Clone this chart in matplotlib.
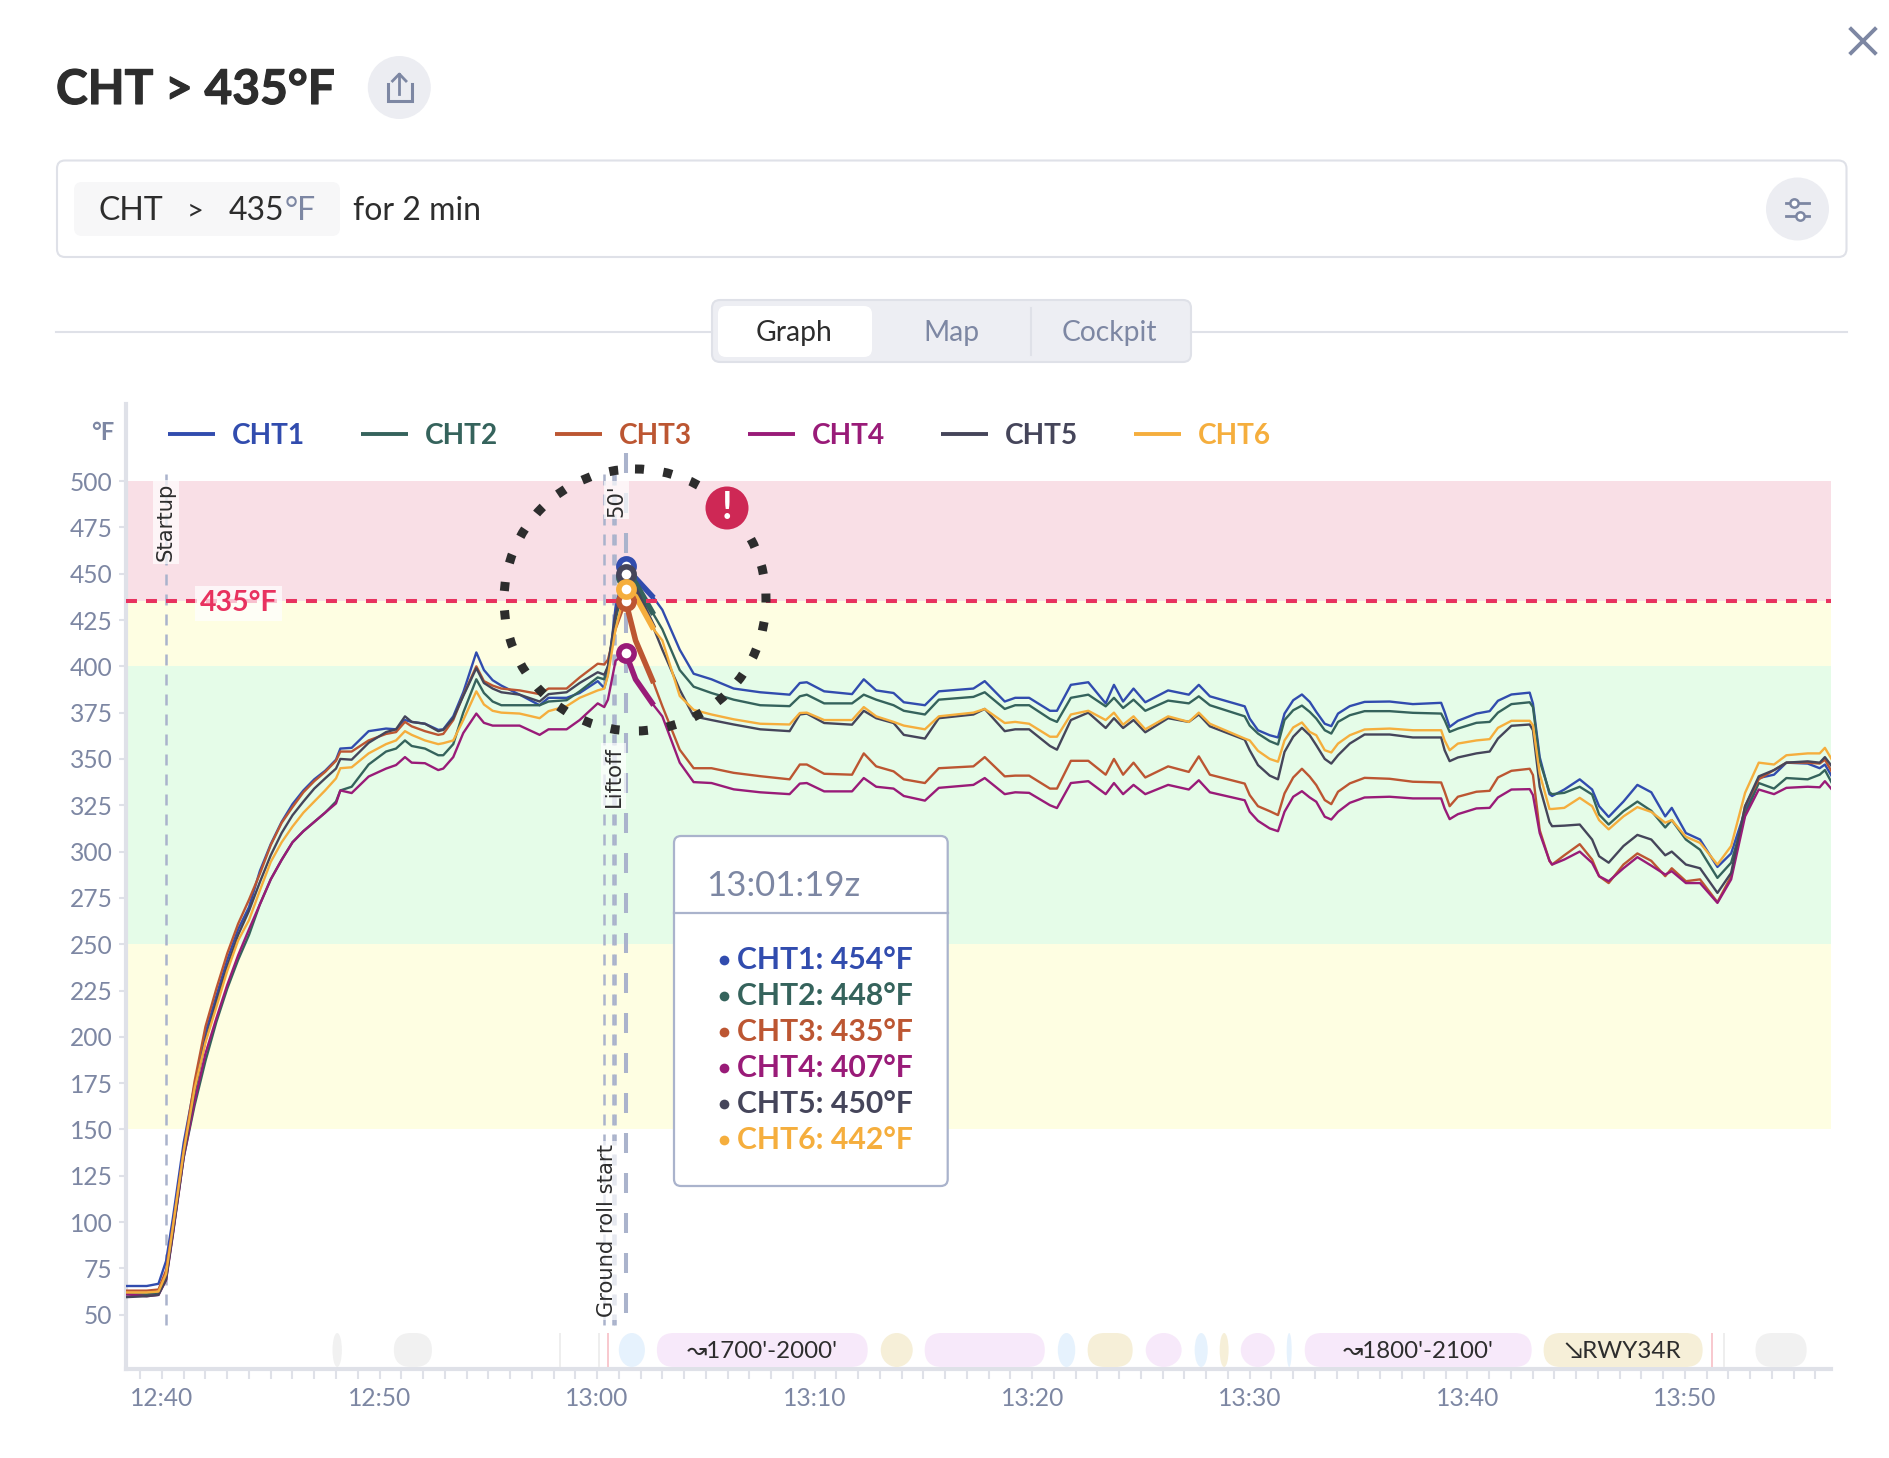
import matplotlib
matplotlib.use("Agg")
from matplotlib import pyplot as plt
from matplotlib import patheffects as pe
from matplotlib.patches import Circle, FancyBboxPatch, Ellipse, Rectangle

plt.rcParams["font.family"] = ["Lato", "DejaVu Sans"]
plt.rcParams["lines.scale_dashes"] = False

# minutes after 12:40z
T = [-1.63, -0.7, -0.16, 0.19, 0.5, 1, 1.5, 2, 2.5, 3, 3.5, 4, 4.5, 5, 5.5, 6, 6.5, 7, 7.5, 8,
     8.2, 8.72, 9.5, 10.3, 10.76, 11.17, 11.48, 12.09, 12.7, 12.93, 13.39, 13.85, 14.45, 14.8, 15.2, 15.6,
     16.44, 17.36, 17.77, 18.6, 19.2, 20.03, 20.33, 20.5, 20.85, 21.32, 21.77, 22.6, 23, 23.8, 24.44, 25.26,
     26.28, 27.5, 28.85, 29.32, 29.64, 30.44, 31.72, 32.26, 32.83, 33.63, 34.1, 35.07, 35.71, 37.3, 37.82,
     38.74, 39.22, 39.86, 40.82, 41.14, 41.78, 42.58, 43.38, 43.76, 44.18, 44.66, 45.2, 46.25, 47.2, 47.66,
     48.17, 49.77,
     50, 50.38, 50.92, 51.3, 51.6, 52, 52.4, 52.76, 53.06, 53.45, 53.75, 54.06, 54.6, 55.28, 56.43, 57.5,
     58.8, 58.96, 59.19, 59.57, 60.42, 61.03, 61.41, 62.03, 62.87, 63.02, 63.33, 63.78,
     63.9, 64.46, 65.17, 65.74, 66.06, 66.5, 67.18, 67.82, 68.46, 69.1, 69.4, 70.05, 70.7, 71.5, 72.13, 72.77,
     73.4, 74.1, 74.67, 75.65, 76.2, 76.44, 76.76]
CHT1 = [65.5, 65.5, 66.7, 79, 102, 143, 174, 202, 222, 241.5, 258, 270, 289.5, 304, 316, 325.6, 333, 339, 343.6, 349.6,
        355.6, 356, 365, 366.4, 366, 371, 370, 369, 365.7, 366, 373, 386, 407.5, 398, 392.5, 389.6,
        384.7, 379, 383, 383, 385.6, 392, 388.3, 396, 432, 454, 447.6, 437, 430.5, 409, 396, 393,
        388, 386, 384.7, 391, 391.4, 386.5, 385, 393, 387, 385.6, 380.6, 379, 386.5, 388, 392,
        381, 383, 383, 376, 376, 390, 391.4, 380, 390, 381, 388, 380.6, 387, 384.7, 390,
        383.8, 378.4,
        371.8, 365.5, 362.8, 361.6, 374.5, 381.7, 384.8, 380.8, 375.4, 369, 367.7, 374.5, 378.5, 380.8, 381, 379.6,
        380.3, 375.4, 367.3, 370.6, 374.5, 375.8, 381.4, 384.8, 385.8, 379.9, 351, 331,
        330, 333.5, 339, 333.5, 324.5, 318.7, 327, 336, 332, 319, 323.6, 310, 306.5, 291.7, 299, 322,
        339.7, 341.5, 348, 347.5, 345, 347, 340.6]
CHT2 = [61, 61, 61.5, 70, 94, 135, 163, 187, 208, 226, 241.5, 255, 271.5, 285, 295.5, 305, 311, 316, 321, 327,
        333, 335, 347, 354, 355.6, 360, 357, 355.6, 352, 352, 358, 375, 393, 385.6, 381, 379,
        379, 379, 381, 381.7, 386.5, 394, 393, 400, 425, 448, 445, 428, 420, 398, 389, 385.6,
        382, 379, 378.5, 383.8, 384.7, 380, 380, 384.7, 382, 379, 376, 374, 382, 383.5, 386,
        377, 379, 379, 371.6, 370, 383, 384.7, 378.4, 383, 377.5, 382, 376, 381.5, 380, 383.8,
        379, 373,
        368, 363.7, 359.6, 357.8, 371, 376.3, 378.8, 375.4, 371.8, 365.5, 363.7, 370, 373.6, 375.8, 375.8, 374.9,
        374.5, 370.9, 364.6, 366.4, 369.5, 370, 375, 379.6, 380.6, 378, 349, 332,
        331, 331.7, 335, 330.8, 320, 314.6, 321.8, 327, 322, 313, 317, 306.5, 301, 285.8, 294, 320,
        337, 334, 339.7, 339, 341.5, 344, 337]
CHT3 = [63, 63, 63.6, 74, 98, 139, 176, 205.5, 226, 245, 261, 274, 288, 303.5, 315.5, 324, 332, 338, 343, 349,
        354, 354, 360, 363.5, 364.5, 370, 367.6, 365, 363, 363.5, 371, 384.4, 400, 392, 389.6, 388,
        387, 385, 388, 388, 394, 401.4, 401, 403.6, 420, 435, 414, 391, 378.5, 355, 345, 345,
        342.5, 340.7, 339, 347, 347, 342, 341.5, 353, 346, 343.3, 339, 337, 345, 346, 351,
        340.6, 341, 341, 334, 334, 349, 349, 341.5, 350, 341.5, 348, 340, 346, 343, 351.4,
        341.5, 336.7,
        330.5, 324.5, 321.8, 319.7, 331.4, 340, 344.7, 340.4, 335.9, 327.8, 325.6, 332.3, 336.8, 339.8, 339.3, 337.7,
        337.3, 332.3, 324.5, 329.6, 332.3, 332.8, 340, 343.6, 344.7, 341.3, 311.6, 295,
        293, 298, 304, 295.7, 286.7, 283, 293, 299, 295, 286.7, 291, 284, 285, 272.7, 286.7, 324.5,
        339, 344, 348, 348, 347.5, 349.6, 343]
CHT4 = [61, 60, 60.7, 68.7, 93, 135, 165, 191, 210, 228, 244, 258, 271.5, 285, 295.5, 305, 311, 316, 321, 326,
        333, 331.6, 340.5, 344.8, 346.7, 351, 348, 347.7, 344, 344.8, 351, 364, 374.5, 369.5, 368, 368,
        368, 363, 366, 366, 371, 380, 378, 382, 403, 407, 393, 379, 373, 348, 337.5, 337,
        333.6, 332, 331, 336.7, 337, 332.5, 332.5, 339.7, 335, 334, 330, 327.5, 334.4, 336, 339.7,
        331, 332, 331.7, 325, 323.5, 337, 338, 331, 337, 331, 336, 331, 336, 333.5, 338.5,
        332, 327.7,
        321.5, 316.6, 312.5, 311, 321.5, 329.6, 332.6, 329.2, 326.9, 318.8, 317.3, 321.5, 326.3, 329.2, 329.6, 328.7,
        328.7, 323.3, 317.5, 320.2, 323.3, 323.6, 329.2, 333.5, 333.7, 330.5, 310, 295,
        293, 295.7, 300, 293.9, 286.7, 284, 291, 297, 292.4, 287.6, 289.4, 283, 283, 272.3, 285, 319,
        333.5, 331, 334.4, 335, 334.7, 338, 333.5]
CHT5 = [59.5, 60, 60.7, 69, 94, 136, 170, 198, 219, 238, 255, 268, 283.5, 298, 310, 319.6, 327, 334, 339.5, 344.8,
        350, 349.6, 358.7, 364.5, 366, 373, 370, 369, 365, 365.7, 372, 384, 399, 391, 388, 386,
        384.7, 381, 385, 386, 391, 396.8, 395.5, 400, 428, 450, 441, 420.6, 409, 387.4, 373, 371,
        368.6, 366, 365, 374, 374.5, 369.4, 368.5, 376, 372, 369.4, 363, 361, 372, 374, 377,
        365, 366, 366, 357, 355, 371, 375, 366.7, 372, 366.7, 371, 364.4, 372, 370, 374,
        367.6, 360.4,
        354.7, 346.7, 341, 339, 353.8, 362, 366.8, 362.8, 357.4, 350, 347.5, 352, 358.3, 363.2, 363.2, 361.6,
        361.6, 354.7, 348.8, 350.8, 353, 354, 361, 367.9, 368.6, 365.5, 335, 316,
        313.7, 314, 314.6, 306.5, 297.5, 294, 303, 309, 306.5, 298, 300, 293, 291, 277.7, 288.5, 324.5,
        340.6, 344, 348, 348.7, 348, 351, 346]
CHT6 = [62, 62, 62.5, 72, 97, 138, 172, 197, 216, 235.5, 252, 263, 279, 294.4, 305, 313.5, 321, 327, 333, 339.5,
        345, 345.5, 353, 358, 360, 365, 363, 360, 358, 358.5, 360, 371, 386.5, 379.4, 376, 375,
        374.5, 372, 375.8, 378.5, 383, 387, 388, 395, 420, 442, 437.7, 420, 414, 384, 376.5, 374,
        371.4, 369, 368.6, 374.8, 375, 371, 371, 378, 373, 370, 368, 366, 373, 375, 377,
        369.4, 370, 369, 362, 362, 374, 376, 371, 375, 368.5, 373, 366, 373, 370, 375,
        369, 361,
        360, 354.4, 350, 348.5, 360, 367, 369.7, 364.6, 362.8, 354.7, 353.5, 358.3, 362.8, 365.9, 366.4, 365.5,
        365.5, 360, 354.7, 358.3, 360, 360.7, 366.8, 370.6, 370.6, 368.2, 342, 323,
        323, 323.6, 329, 324.5, 317, 312, 319, 324, 321.4, 315.6, 317, 308, 304.7, 293, 303, 331.7,
        348, 347, 352, 353, 353, 356, 349.6]
SERIES = ["CHT1", "CHT2", "CHT3", "CHT4", "CHT5", "CHT6"]
COLORS = ["#314CAE", "#35635C", "#BC5632", "#991B78", "#45455A", "#F5AE3D"]
READOUT = [454, 448, 435, 407, 450, 442]

PEAK_T = 21.32
THICK_END = 22.6
EVENT_T = [0.19, 20.33, 20.73, 20.84]
X_MAJOR = list(range(0, 71, 10))
X_LABELS = ["12:40", "12:50", "13:00", "13:10", "13:20", "13:30", "13:40", "13:50"]
Y_TICKS = list(range(50, 501, 25))

# flight phase strip: start, end, colour name
PHASES = [(7.84, 8.27, "gray"), (10.66, 12.41, "gray"), (21.0, 22.2, "blue"), (22.75, 32.44, "purple"),
          (33.04, 34.51, "tan"), (35.06, 40.58, "purple"), (41.18, 41.98, "blue"), (42.55, 44.62, "tan"),
          (45.22, 46.87, "purple"), (47.47, 48.07, "blue"), (48.62, 49.03, "tan"), (49.59, 51.15, "purple"),
          (51.7, 51.93, "blue"), (52.53, 62.96, "purple"), (63.51, 70.82, "tan"), (73.25, 75.6, "gray")]
PHASE_TICKS = [(18.31, "#EEEEEE"), (20.10, "#EEEEEE"), (20.52, "#F8C9CF"), (71.23, "#F8C9CF"), (71.78, "#EEEEEE")]
PHASE_LABELS = [(27.6, "↝1700'-2000'"), (57.75, "↝1800'-2100'"), (67.15, "↘RWY34R")]

GRAY = "#7D87A3"
LINE = "#DFE1E8"
DARK = "#2D2D2D"
RED = "#E8325F"
PILL = {"gray": "#F1F1F1", "blue": "#E6F2FD", "purple": "#F7E9FA", "tan": "#F6EFD8"}
W, H = 1890, 1458

fig = plt.figure(figsize=(W / 100, H / 100), dpi=100)

# chart axes, placed in pixels
L, R, TOP, BOT = 126.5, 1831, 404, 1369
XMIN, XMAX = -1.63, 76.72
ax = fig.add_axes([L / W, 1 - BOT / H, (R - L) / W, (BOT - TOP) / H])
ax.set_xlim(XMIN, XMAX)
ax.set_ylim(20.7, 541.6)
ax.patch.set_alpha(0)

ax.axhspan(435, 500, color="#F9DFE6", lw=0, zorder=0)
ax.axhspan(400, 435, color="#FEFEE2", lw=0, zorder=0)
ax.axhspan(250, 400, color="#E5FCE8", lw=0, zorder=0)
ax.axhspan(150, 250, color="#FEFEE2", lw=0, zorder=0)

for t in EVENT_T:
    ax.plot([t, t], [504, 44], color="#AAB3CC", lw=1.8, ls=(0, (7.9, 6.5)), zorder=1)
ax.plot([PEAK_T, PEAK_T], [515, 44], color="#AAB3CC", lw=2.9, ls=(0, (14.4, 14.4)), zorder=1)

for name, vals, c in zip(SERIES, [CHT1, CHT2, CHT3, CHT4, CHT5, CHT6], COLORS):
    ax.plot(T, vals, color=c, lw=1.7, zorder=3, label=name)
for vals, c in zip([CHT1, CHT2, CHT3, CHT4, CHT5, CHT6], COLORS):
    tt = [a for a in T if PEAK_T <= a <= THICK_END]
    vv = [b for a, b in zip(T, vals) if PEAK_T <= a <= THICK_END]
    ax.plot(tt, vv, color=c, lw=4, zorder=4, solid_capstyle="butt")
for val, c in zip(READOUT, COLORS):
    ax.plot([PEAK_T], [val], marker="o", ms=11, mew=4, mec=c, mfc="white", zorder=5)

ax.axhline(435, color=RED, lw=2.9, ls=(0, (7.9, 6.5)), zorder=4)
ax.text(3.52, 434, "435°F", color=RED, fontsize=20.5, fontweight="bold", va="center", ha="center", zorder=6,
        bbox=dict(facecolor="white", alpha=0.7, edgecolor="none", pad=3))

lab_bg = dict(facecolor="white", alpha=0.7, edgecolor="none", pad=2)
for t, y, s in [(0.18, 478, "Startup"), (20.76, 340.7, "Liftoff"), (20.47, 95.5, "Ground roll start"), (20.9, 489.6, "50'")]:
    ax.text(t, y, s, rotation=90, ha="center", va="center", fontsize=15.2, color=DARK, family="DejaVu Sans",
            bbox=lab_bg, zorder=6)

for sp in ["top", "right"]:
    ax.spines[sp].set_visible(False)
for sp in ["left", "bottom"]:
    ax.spines[sp].set_color(LINE)
    ax.spines[sp].set_linewidth(3)
ax.set_yticks(Y_TICKS)
ax.set_xticks(X_MAJOR)
ax.set_xticklabels(X_LABELS)
ax.set_xticks(range(-1, 77), minor=True)
ax.tick_params(axis="y", length=5, width=1.5, color=LINE, labelcolor=GRAY, labelsize=17.7, pad=5)
ax.tick_params(axis="x", which="both", length=7, width=1.5, color=LINE, labelcolor=GRAY, labelsize=17.7, pad=6)

# everything around the chart, in pixel coordinates
ui = fig.add_axes([0, 0, 1, 1], zorder=5)
ui.set_xlim(0, W)
ui.set_ylim(H, 0)
ui.axis("off")


def t_px(t):
    return L + (t - XMIN) / (XMAX - XMIN) * (R - L)


def box(x0, y0, x1, y1, r, fc, ec="none", lw=0):
    ui.add_patch(FancyBboxPatch((x0, y0), x1 - x0, y1 - y0, boxstyle=f"round,pad=0,rounding_size={r}",
                                fc=fc, ec=ec, lw=lw))


# phase strip
for t0, t1, kind in PHASES:
    x0, x1 = t_px(t0), t_px(t1)
    if x1 - x0 < 36:
        ui.add_patch(Ellipse(((x0 + x1) / 2, 1350), x1 - x0, 34, fc=PILL[kind], ec="none"))
    else:
        box(x0, 1333, x1, 1367, 17, PILL[kind])
for t, c in PHASE_TICKS:
    ui.add_patch(Rectangle((t_px(t) - 1, 1333), 2, 34, fc=c, ec="none"))
for t, s in PHASE_LABELS:
    ui.text(t_px(t), 1352, s, ha="center", va="center", fontsize=17.4, color=DARK)

# header
ui.text(56, 90, "CHT > 435°F", fontsize=34.5, fontweight="bold", color=DARK, va="center",
        path_effects=[pe.withStroke(linewidth=0.8, foreground=DARK)])
ui.add_patch(Circle((399.3, 87.5), 31.5, fc="#ECEDF2", ec="none"))
ui.plot([388.3, 388.3, 411.7, 411.7], [84, 101, 101, 84], color=GRAY, lw=2.2, solid_joinstyle="miter")
ui.plot([399.3, 399.3], [74, 94], color=GRAY, lw=2)
ui.plot([392.5, 399.3, 406], [81, 74, 81], color=GRAY, lw=2)
ui.plot([1851, 1875], [29, 53], color=GRAY, lw=2.8)
ui.plot([1875, 1851], [29, 53], color=GRAY, lw=2.8)

# query box
box(57, 160.5, 1846.5, 257, 8, "white", LINE, 1.5)
box(74, 182, 340, 236, 8, "#F7F7F8")
ui.text(98, 211, "CHT", fontsize=23, color=DARK, va="center")
ui.text(187, 211, ">", fontsize=21, color=DARK, va="center")
ui.text(229, 211, "435", fontsize=23, color=DARK, va="center")
ui.text(285, 211, "°F", fontsize=23, color=GRAY, va="center")
ui.text(353, 211, "for 2 min", fontsize=23, color=DARK, va="center")
ui.add_patch(Circle((1797.5, 209), 31.5, fc="#ECEDF2", ec="none"))
ui.plot([1786, 1808.5], [203.3, 203.3], color=GRAY, lw=2)
ui.plot([1786, 1808.5], [215.7, 215.7], color=GRAY, lw=2)
ui.plot([1793.5], [203.3], marker="o", ms=6, mfc="white", mec=GRAY, mew=1.8)
ui.plot([1800], [215.7], marker="o", ms=6, mfc="white", mec=GRAY, mew=1.8)

# tabs
ui.plot([56, 712], [331.5, 331.5], color=LINE, lw=1.5)
ui.plot([1191, 1847], [331.5, 331.5], color=LINE, lw=1.5)
box(712, 300, 1191, 362, 8, "#EDEEF3", LINE, 1.5)
box(718, 306, 872, 357, 8, "white")
ui.plot([1031, 1031], [308, 355], color=LINE, lw=1.5)
ui.text(794, 333, "Graph", fontsize=20.3, color=DARK, ha="center", va="center")
ui.text(951, 333, "Map", fontsize=20.3, color=GRAY, ha="center", va="center")
ui.text(1109, 333, "Cockpit", fontsize=20.3, color=GRAY, ha="center", va="center")

# legend
ui.text(114, 432, "°F", fontsize=17, fontweight="bold", color=GRAY, ha="right", va="center")
for name, c, x0 in zip(SERIES, COLORS, [167.5, 360.5, 554.5, 747.5, 940.5, 1134]):
    ui.plot([x0, x0 + 47], [433.5, 433.5], color=c, lw=2.8, solid_capstyle="butt")
    ui.text(x0 + 64, 436, name, fontsize=20.2, fontweight="bold", color=c, va="center")

# marker of the exceedance
ui.add_patch(Circle((635, 600), 131, fc="none", ec=DARK, lw=6.5, ls=(0, (6.5, 14))))
ui.add_patch(Circle((727, 508), 21.5, fc="#CE2855", ec="none"))
ui.text(727, 508, "!", color="white", fontsize=27, fontweight="bold", ha="center", va="center")

# tooltip
box(674, 836, 947.7, 1186, 7, "white", "#AAB3CC", 1.6)
ui.plot([674, 947.7], [912.7, 912.7], color="#AAB3CC", lw=1.6)
ui.text(706, 886, "13:01:19z", fontsize=25, color=GRAY, va="center")
for name, val, c, y in zip(SERIES, READOUT, COLORS, [960, 996, 1032, 1068, 1104, 1140]):
    ui.plot([724], [y], marker="o", ms=7, color=c, mew=0)
    ui.text(737, y, f"{name}: {val}°F", fontsize=21.7, fontweight="bold", color=c, va="center")

fig.savefig("out.png", dpi=100)
